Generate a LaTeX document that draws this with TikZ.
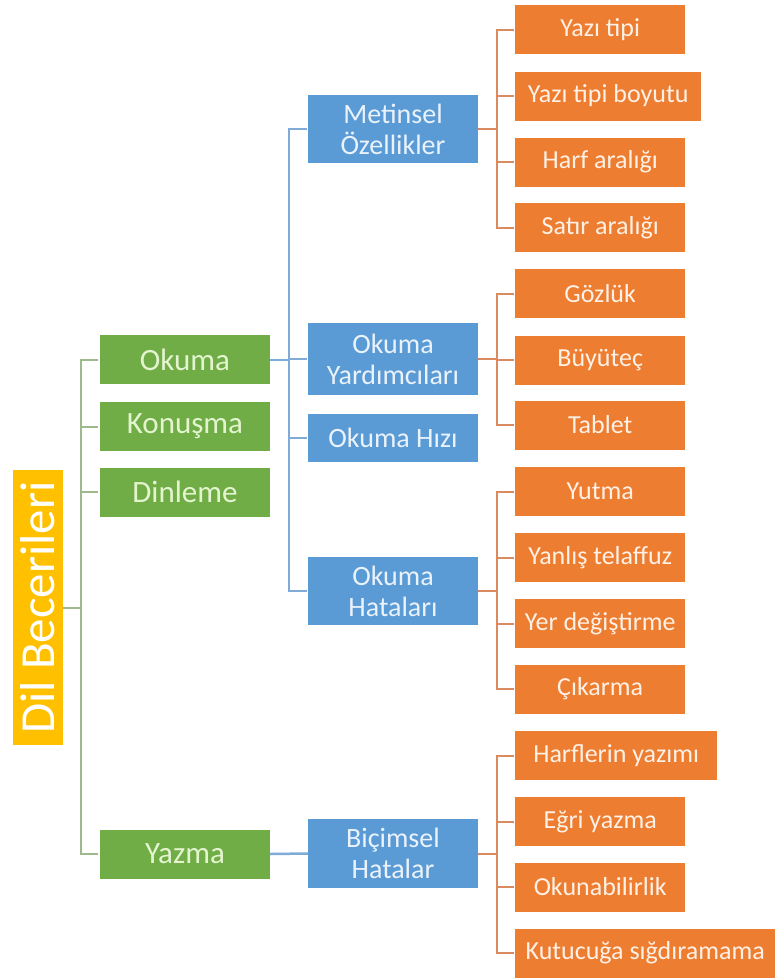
\documentclass[tikz,border=0pt]{standalone}
\usepackage{fontspec}
\setmainfont{Carlito}
\usetikzlibrary{positioning}
\definecolor{rootfill}{HTML}{FFC000}
\definecolor{skillfill}{HTML}{70AD47}
\definecolor{topicfill}{HTML}{5B9BD5}
\definecolor{itemfill}{HTML}{ED7D31}
\definecolor{skillink}{HTML}{E4F4CF}
\definecolor{topicink}{HTML}{EAF2FB}
\definecolor{itemink}{HTML}{FFF1E6}
\definecolor{skillline}{HTML}{9EB98B}
\definecolor{topicline}{HTML}{7FABD8}
\definecolor{itemline}{HTML}{D98A5E}
\tikzset{
  rootbox/.style={fill=rootfill,text=white,inner sep=0pt,rotate=90,
    minimum width=275pt,minimum height=50pt,
    font=\fontsize{49}{53}\selectfont},
  skillbox/.style={fill=skillfill,text=skillink,inner sep=0pt,
    minimum width=170pt,minimum height=49pt,
    font=\fontsize{31}{35}\selectfont},
  topicbox/.style={fill=topicfill,text=topicink,inner sep=0pt,align=center,
    minimum width=170pt,font=\fontsize{28}{31}\selectfont},
  itembox/.style={fill=itemfill,text=itemink,inner sep=0pt,anchor=west,
    minimum width=170pt,minimum height=49pt,
    font=\fontsize{26}{29}\selectfont},
  link/.style={line width=2pt}
}
\begin{document}
\begin{tikzpicture}[x=1pt,y=-1pt]
  \path[use as bounding box] (0,0) rectangle (775,980);
  % root
  \node[rootbox] (root) at (38,607.5) {Dil Becerileri};
  % skills
  \node[skillbox] (okuma)   at (185,359.5) {Okuma};
  \node[skillbox] (konusma) at (185,426.5) {Konuşma};
  \node[skillbox] (dinleme) at (185,492)   {Dinleme};
  \node[skillbox] (yazma)   at (185,854)   {Yazma};
  % topics
  \node[topicbox,minimum height=68pt] (metinsel) at (393,129)   {Metinsel\\Özellikler};
  \node[topicbox,minimum height=72pt] (yardim)   at (393,359)   {Okuma\\Yardımcıları};
  \node[topicbox,minimum height=48pt] (hiz)      at (393,438)   {Okuma Hızı};
  \node[topicbox,minimum height=68pt] (hatalar)  at (393,591)   {Okuma\\Hataları};
  \node[topicbox,minimum height=69pt] (bicimsel) at (393,853.5) {Biçimsel\\Hatalar};
  % items
  \node[itembox] (yazitipi)  at (515,29.5)  {Yazı tipi};
  \node[itembox,minimum width=186pt] (boyut) at (515,96) {Yazı tipi boyutu};
  \node[itembox] (harf)      at (515,162)   {Harf aralığı};
  \node[itembox] (satir)     at (515,227.5) {Satır aralığı};
  \node[itembox] (gozluk)    at (515,293.5) {Gözlük};
  \node[itembox] (buyutec)   at (515,360)   {Büyüteç};
  \node[itembox] (tablet)    at (515,425)   {Tablet};
  \node[itembox] (yutma)     at (515,491.5) {Yutma};
  \node[itembox] (yanlis)    at (515,557.5) {Yanlış telaffuz};
  \node[itembox] (yer)       at (515,623.5) {Yer değiştirme};
  \node[itembox] (cikarma)   at (515,689)   {Çıkarma};
  \node[itembox,minimum width=202pt] (harfler) at (515,755.5) {Harflerin yazımı};
  \node[itembox] (egri)      at (515,821.5) {Eğri yazma};
  \node[itembox] (okunabilir) at (515,887)  {Okunabilirlik};
  \node[itembox,minimum width=260pt] (kutucuk) at (515,953) {Kutucuğa sığdıramama};
  % connectors
  \coordinate (skilltrunk) at (81,0);
  \coordinate (topictrunk) at (289,0);
  \coordinate (itemtrunk)  at (497,0);
  \foreach \n in {okuma,konusma,dinleme,yazma}
    \draw[link,skillline,shorten >=2pt] (root.south) -- (root.south -| skilltrunk) |- (\n.west);
  \foreach \n in {metinsel,yardim,hiz,hatalar}
    \draw[link,topicline,shorten >=1pt] (okuma.east) -- (okuma.east -| topictrunk) |- (\n.west);
  \draw[link,topicline,line width=2.5pt] (yazma.east) -- (bicimsel.west);
  \foreach \p/\kids in {metinsel/{yazitipi,boyut,harf,satir},
                        yardim/{gozluk,buyutec,tablet},
                        hatalar/{yutma,yanlis,yer,cikarma},
                        bicimsel/{harfler,egri,okunabilir,kutucuk}}
    \foreach \k in \kids
      \draw[link,itemline,shorten >=1pt] (\p.east) -- (\p.east -| itemtrunk) |- (\k.west);
\end{tikzpicture}
\end{document}
